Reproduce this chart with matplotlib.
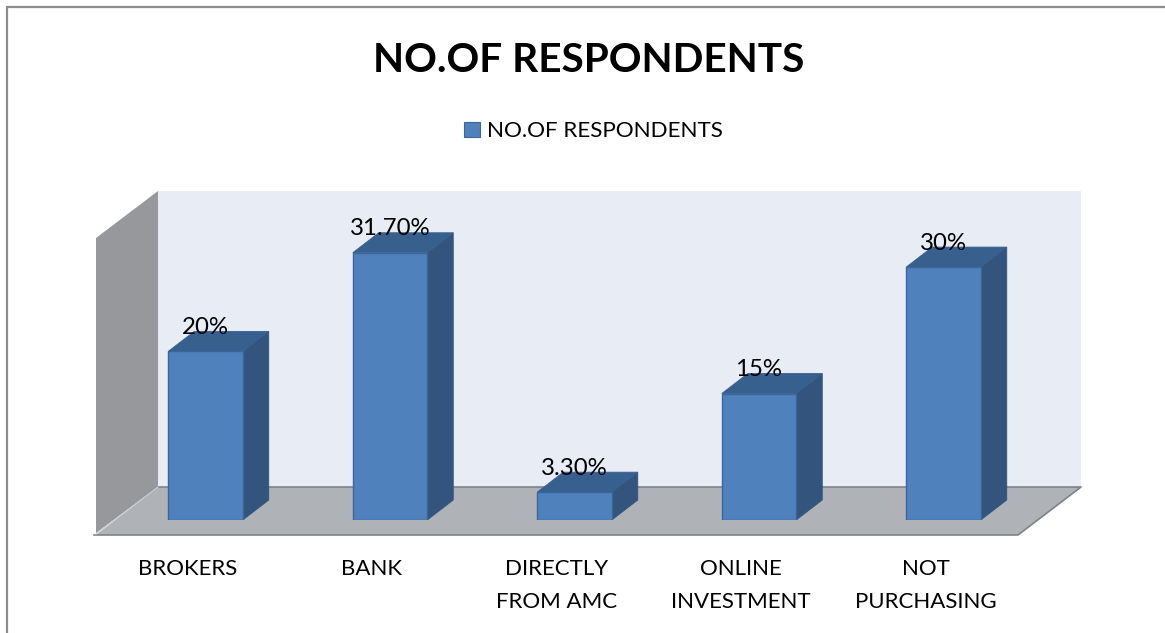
import matplotlib
matplotlib.use("Agg")
import matplotlib.pyplot as plt
from matplotlib.patches import Polygon, Rectangle

categories = ["BROKERS", "BANK", "DIRECTLY\nFROM AMC", "ONLINE\nINVESTMENT", "NOT\nPURCHASING"]
values = [20, 31.7, 3.3, 15, 30]
value_labels = ["20%", "31.70%", "3.30%", "15%", "30%"]
series_name = "NO.OF RESPONDENTS"

W, H = 1165, 633
plt.rcParams["font.family"] = ["Lato", "DejaVu Sans"]
fig = plt.figure(figsize=(W / 100, H / 100), dpi=100, facecolor="white")

# Backdrop in pixel units: frame, walls and floor of the 3D box
bg = fig.add_axes([0, 0, 1, 1])
bg.set_xlim(0, W)
bg.set_ylim(H, 0)
bg.axis("off")
bg.add_patch(Rectangle((6.5, 7), 1300, 800, fc="white", ec="#8c8c8c", lw=1.6))
bg.add_patch(Polygon([(158, 191), (1081, 191), (1081, 487), (158, 487)], fc="#e7ecf5", ec="none"))
bg.add_patch(Polygon([(96, 238), (158, 191), (158, 487), (96, 533)], fc="#96989b", ec="none"))
bg.add_patch(Polygon([(96, 535), (158, 487), (1081, 487), (1018, 535)], fc="#afb2b7", ec="none"))
bg.plot([158, 1081, 1018, 94], [487, 487, 535, 535], color="#7d8388", lw=1.2)
bg.plot([96, 158], [534, 487], color="#c9cbce", lw=0.8)

# Data axes: x in category slots, y in percent
STEP = 184.5
PX_PER_PCT = 8.43
LEFT = 205.5 - 0.5 * STEP
BASE = 520
ax = fig.add_axes([LEFT / W, (H - BASE) / H, 5 * STEP / W, 40 * PX_PER_PCT / H])
ax.set_xlim(-0.5, 4.5)
ax.set_ylim(0, 40)
ax.axis("off")
ax.patch.set_alpha(0)

bar_w = 74.5 / STEP
dx = 26 / STEP
dy = 20 / PX_PER_PCT
FRONT, SIDE, TOP, EDGE = "#4f81bd", "#33547d", "#37608f", "#3c6698"

for i, v in enumerate(values):
    l, r = i - bar_w / 2, i + bar_w / 2
    ax.add_patch(Polygon([(r, 0), (r + dx, dy), (r + dx, v + dy), (r, v)], fc=SIDE, ec=SIDE, lw=0.6))
    ax.add_patch(Polygon([(l, v), (l + dx, v + dy), (r + dx, v + dy), (r, v)], fc=TOP, ec=TOP, lw=0.6))
    ax.bar(i, v, width=bar_w, color=FRONT, edgecolor=EDGE, linewidth=1.0)
    ax.text(i, v + 1.6, value_labels[i], ha="center", va="bottom", fontsize=17.3, color="black")

# Category labels sit under the middle of the floor, left of the bar fronts
for i, c in enumerate(categories):
    ax.annotate(c, (i, 0), xytext=(-13, -28.2), textcoords="offset points", ha="center", va="top",
                fontsize=16, color="black", linespacing=1.8, annotation_clip=False)

# Title and legend
fig.text(589 / W, 1 - 61 / H, series_name, ha="center", va="center", fontsize=29.2, fontweight="bold", color="black")
bg.add_patch(Rectangle((464, 122), 16, 15, fc=FRONT, ec=EDGE, lw=0.8))
bg.text(487, 131, series_name, ha="left", va="center", fontsize=16.1, color="black")

fig.savefig("out.png", dpi=100)
